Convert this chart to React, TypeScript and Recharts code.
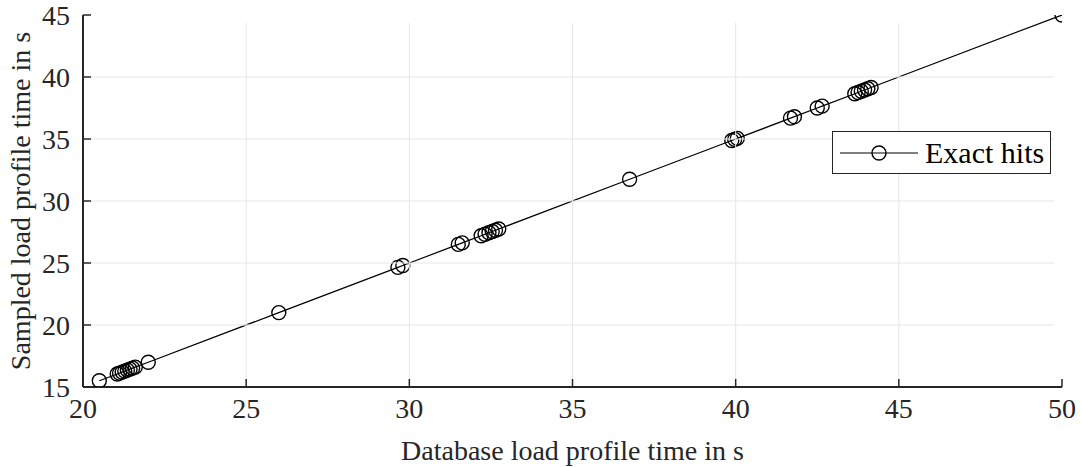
import { LineChart, Line, XAxis, YAxis } from 'recharts'

// database time (s) vs sampled time (s)
const dbTime = [
  20.5, 21.05, 21.12, 21.2, 21.28, 21.36, 21.44, 21.52, 21.6, 22.0,
  26.0, 29.65, 29.8, 31.5, 31.62,
  32.2, 32.32, 32.44, 32.54, 32.64, 32.74,
  36.75, 39.88, 39.97, 40.05,
  41.68, 41.8, 42.5, 42.65,
  43.65, 43.75, 43.85, 43.95, 44.05, 44.15,
  50.0,
]
const sampledTime = [
  15.5, 16.05, 16.12, 16.2, 16.28, 16.36, 16.44, 16.52, 16.6, 17.0,
  21.0, 24.65, 24.8, 26.5, 26.62,
  27.2, 27.32, 27.44, 27.54, 27.64, 27.74,
  31.75, 34.88, 34.97, 35.05,
  36.68, 36.8, 37.5, 37.65,
  38.65, 38.75, 38.85, 38.95, 39.05, 39.15,
  45.0,
]
const xTicks = [20, 25, 30, 35, 40, 45, 50]
const yTicks = [15, 20, 25, 30, 35, 40, 45]

const data = dbTime.map((x, i) => ({ x, y: sampledTime[i] }))

const FONT = '"Liberation Serif", "Times New Roman", serif'
const INK = '#262626'
const GRID = '#e6e6e6'
const FS = 28
const TICK = 8     // inward tick length
const GAP_X = 19   // tick label gap, bottom axis
const GAP_Y = 21   // tick label gap, left axis

// chart box
const W = 1082
const H = 467
const M = { top: 15, right: 20, left: 0, bottom: 0 }
const Y_AXIS_W = 83
const X_AXIS_H = 80
const PLOT_W = W - M.left - M.right - Y_AXIS_W
const PLOT_H = H - M.top - M.bottom - X_AXIS_H

const axisLine = { stroke: INK, strokeWidth: 2 }

// CartesianGrid paints over the axes here, so the grid lines live in the tick renderers
function BottomTick(props: any) {
  const { x, y, payload } = props
  const axisY = y - GAP_X + TICK
  const edge = payload.value === xTicks[0] || payload.value === xTicks[xTicks.length - 1]
  return (
    <g>
      {!edge && <line x1={x} y1={axisY - TICK} x2={x} y2={axisY - PLOT_H + TICK} stroke={GRID} strokeWidth={1} />}
      <line x1={x} y1={axisY - TICK} x2={x} y2={axisY} stroke={INK} strokeWidth={1.5} />
      <text x={x} y={y} dy="0.71em" textAnchor="middle" fill={INK} fontSize={FS} fontFamily={FONT}>
        {payload.value}
      </text>
    </g>
  )
}

function LeftTick(props: any) {
  const { x, y, payload } = props
  const axisX = x + GAP_Y - TICK
  const edge = payload.value === yTicks[0] || payload.value === yTicks[yTicks.length - 1]
  return (
    <g>
      {!edge && <line x1={axisX + TICK} y1={y} x2={axisX + PLOT_W - TICK} y2={y} stroke={GRID} strokeWidth={1} />}
      <line x1={axisX} y1={y} x2={axisX + TICK} y2={y} stroke={INK} strokeWidth={1.5} />
      <text x={x} y={y} dy="0.355em" textAnchor="end" fill={INK} fontSize={FS} fontFamily={FONT}>
        {payload.value}
      </text>
    </g>
  )
}

function TopTick(props: any) {
  const { x, y } = props
  return <line x1={x} y1={y} x2={x} y2={y - TICK} stroke={INK} strokeWidth={1.5} />
}

function RightTick(props: any) {
  const { x, y } = props
  return <line x1={x} y1={y} x2={x + TICK} y2={y} stroke={INK} strokeWidth={1.5} />
}

function LegendBox() {
  return (
    <svg width={220} height={44} style={{ display: 'block' }}>
      <rect x={0.5} y={0.5} width={218} height={42} fill="#fff" stroke={INK} strokeWidth={1} />
      <line x1={8} y1={22} x2={86} y2={22} stroke="#000" strokeWidth={1.2} />
      <circle cx={47} cy={22} r={7} fill="none" stroke="#000" strokeWidth={1.4} />
      <text x={93} y={32} fontFamily={FONT} fontSize={30} fill="#000">
        Exact hits
      </text>
    </svg>
  )
}

export default function App() {
  return (
    <div style={{ position: 'absolute', left: 0, top: 0, width: W, height: H, background: '#fff' }}>
      <LineChart width={W} height={H} data={data} margin={M}>
        <XAxis
          dataKey="x"
          type="number"
          domain={[20, 50]}
          ticks={xTicks}
          allowDataOverflow
          height={X_AXIS_H}
          axisLine={axisLine}
          tickLine={false}
          tickSize={-TICK}
          tickMargin={GAP_X}
          tick={<BottomTick />}
          label={{ value: 'Database load profile time in s', position: 'insideBottom', offset: 7, fill: INK, fontSize: FS, fontFamily: FONT }}
        />
        <XAxis
          xAxisId="top"
          orientation="top"
          type="number"
          domain={[20, 50]}
          ticks={xTicks}
          allowDataOverflow
          height={0}
          axisLine={axisLine}
          tickLine={false}
          tickSize={-TICK}
          tickMargin={0}
          tick={<TopTick />}
        />
        <YAxis
          dataKey="y"
          type="number"
          domain={[15, 45]}
          ticks={yTicks}
          allowDataOverflow
          width={Y_AXIS_W}
          axisLine={axisLine}
          tickLine={false}
          tickSize={-TICK}
          tickMargin={GAP_Y}
          tick={<LeftTick />}
          label={{ value: 'Sampled load profile time in s', angle: -90, position: 'insideLeft', offset: 20, style: { textAnchor: 'middle' }, fill: INK, fontSize: FS, fontFamily: FONT }}
        />
        <YAxis
          yAxisId="right"
          orientation="right"
          type="number"
          domain={[15, 45]}
          ticks={yTicks}
          allowDataOverflow
          width={0}
          axisLine={axisLine}
          tickLine={false}
          tickSize={-TICK}
          tickMargin={0}
          tick={<RightTick />}
        />
        <Line
          dataKey="y"
          type="linear"
          stroke="#000"
          strokeWidth={1.2}
          dot={{ r: 7, fill: 'none', stroke: '#000', strokeWidth: 1.4 }}
          activeDot={false}
          isAnimationActive={false}
        />
      </LineChart>
      <div style={{ position: 'absolute', left: 832, top: 131 }}>
        <LegendBox />
      </div>
    </div>
  )
}
